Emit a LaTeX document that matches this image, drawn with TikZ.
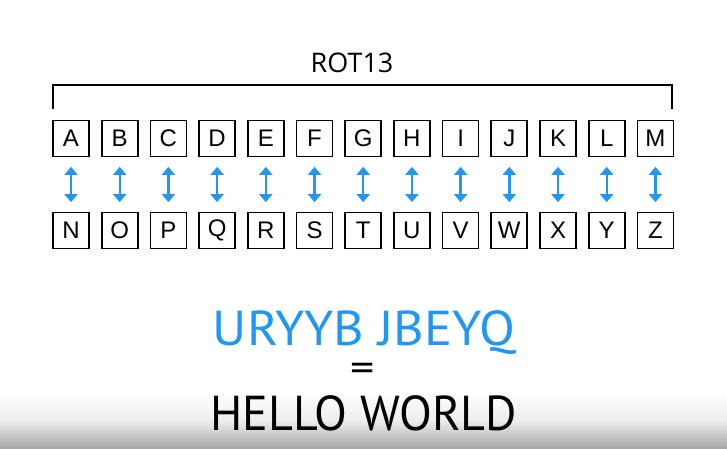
\documentclass[tikz,border=0pt]{standalone}
\usepackage{fontspec}
\setmainfont{Liberation Sans}
\newfontfamily\bigfont{PT Sans}
\newfontfamily\titlefont{Open Sans}
\usetikzlibrary{arrows.meta}
\definecolor{rotblue}{RGB}{33,150,243}
\definecolor{bottomgray}{RGB}{165,165,165}
\tikzset{
  letterbox/.style={draw=black, line width=1.7pt, minimum width=36pt, minimum height=36pt, inner sep=0pt, font=\fontsize{24}{24}\selectfont},
  swaparrow/.style={draw=rotblue, line width=2.4pt, {Triangle[width=13pt,length=8pt]}-{Triangle[width=13pt,length=8pt]}, shorten <=9.5pt, shorten >=9.5pt},
  bracketline/.style={draw=black, line width=1.6pt},
  bigtext/.style={anchor=base, inner sep=0pt, font=\bigfont\fontsize{49}{49}\selectfont}
}
\begin{document}
\begin{tikzpicture}[x=1pt,y=-1pt]
\useasboundingbox (0,0) rectangle (727,449);
\fill[white] (0,0) rectangle (727,449);
\shade[top color=white, bottom color=bottomgray, middle color=white!80!bottomgray] (0,392) rectangle (727,449);
\node[anchor=base, inner sep=0pt, font=\titlefont\fontsize{27}{27}\selectfont] (title) at (352,72.5) {ROT13};
\coordinate (bl) at (53,109);
\coordinate (br) at (672,109);
\draw[bracketline] (bl) |- (362,85) -| (br);
\foreach \t/\b [count=\i from 0] in {A/N,B/O,C/P,D/Q,E/R,F/S,G/T,H/U,I/V,J/W,K/X,L/Y,M/Z} {
  \node[letterbox] (top\i) at (71+48.7*\i,138.5) {\t};
  \node[letterbox] (bot\i) at (71+48.7*\i,230.5) {\b};
  \draw[swaparrow] (top\i) -- (bot\i);
}
\node[bigtext, text=rotblue] (cipher) at (364,345) {\scalebox{1.07}[1]{URYYB JBEYQ}};
\node[anchor=center, inner sep=0pt, font=\bigfont\fontsize{40}{40}\selectfont] (eq) at (362.5,372) {\scalebox{1.2}[1]{=}};
\node[bigtext] (plain) at (363.5,430) {\scalebox{0.98}[1]{HELLO WORLD}};
\end{tikzpicture}
\end{document}
